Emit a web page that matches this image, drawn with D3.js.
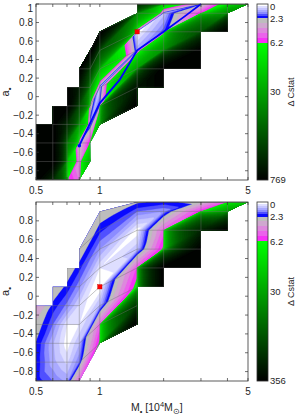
<!DOCTYPE html>
<html><head><meta charset="utf-8">
<script src="https://cdn.jsdelivr.net/npm/d3@7"></script>
<style>
body{margin:0;background:#fff}
svg{display:block}
text{font-family:"Liberation Sans",Arial,sans-serif;fill:#262626}
</style>
</head><body>
<svg id="c" width="296" height="415"></svg>
<script>
// ---------------- data ----------------
const spinRows = [-0.9,-0.7,-0.5,-0.3,-0.1,0.1,0.3,0.5,0.7,0.9,1.0];

const topMass  = [0.5,0.6,0.7,0.8,0.9,1.0,1.5,2,3,4,5];
const topShift = [0,0,0,0,0,1,2,2,2,2,2];
const topZ = [
  [769,769,769,769,769,769,769,769,769,769,769],
  [300,769,769,769,769,769,769,769,769,769,769],
  [6.5,15,60,300,769,769,769,769,769,769,769],
  [4.5,3.5,2.2,25,150,400,769,769,769,769,769],
  [60,20,6.5,1.2,3.5,30,200,769,769,769,769],
  [769,769,200,20,2.2,0.5,18,150,769,769,769],
  [769,769,769,769,769,500,30,1.2,0,40,300],
  [769,769,769,769,769,769,769,40,1.8,0.8,12],
  [769,769,769,769,769,769,769,769,150,6,2.0],
  [769,769,769,769,769,769,769,769,769,40,8],
  [769,769,769,769,769,769,769,769,769,200,20]
];
const topRegion = [[0.5,-0.9],[0.5,-0.3],[0.6,-0.3],[0.6,-0.1],[0.7,-0.1],[0.7,0.1],[0.8,0.1],[0.8,0.3],[0.9,0.5],[1.0,0.7],[1.5,0.9],[1.5,1.0],[5,1.0],[4,0.9],[4,0.7],[3,0.7],[3,0.3],[2,0.3],[2,0.1],[1.5,0.1],[1.5,-0.1],[1.0,-0.3],[0.9,-0.5],[0.9,-0.7],[0.8,-0.9]];
const topBest = [1.5,0.7];
const topLineMass = [0.8,1.0,1.24,1.5,2.0,2.56,3.0];
const topLineSpin = [-0.53,-0.07,0.18,0.5,0.7,0.88,1.0];
const topColorTicks = [0,2.3,6.2,30,769];
const topYLabels = [1,0.8,0.6,0.4,0.2,0,-0.2,-0.4,-0.6,-0.8];

const botMass  = [0.5,0.6,0.7,0.8,1.0,1.5,2,3,4,5];
const botShift = [0,0,0,0,1,2,2,2,2,2];
const botZ = [
  [2.1,2.15,2.25,2.7,4.0,6,6,6,6,6,6],
  [1.6,1.1,1.0,1.6,2.1,3.0,6,6,6,6,6],
  [1.2,0.5,0.1,0.3,1.5,2.1,2.9,6,6,6,6],
  [5,1.6,0.9,0.3,0.5,1.4,2.0,2.9,5,6,6],
  [10,10,6.5,5,1.0,0,0.3,1.3,2.0,2.8,5],
  [356,356,356,356,150,6.8,5.5,0.8,0.1,1.6,2.4],
  [356,356,356,356,356,356,356,6.5,5.0,1.3,2.1],
  [356,356,356,356,356,356,356,356,200,6,2.6],
  [356,356,356,356,356,356,356,356,356,30,5.5],
  [356,356,356,356,356,356,356,356,356,200,12]
];
const botRegion = [[0.5,-0.9],[0.5,-0.1],[0.6,-0.1],[0.6,0.1],[0.7,0.1],[0.7,0.3],[0.8,0.3],[0.8,0.5],[1.0,0.9],[1.5,1.0],[5,1.0],[4,0.9],[4,0.7],[3,0.7],[3,0.3],[2,0.3],[2,0.1],[1.5,0.1],[1.5,-0.3],[1.0,-0.5],[0.8,-0.9]];
const botBest = [1.0,0.1];
const botColorTicks = [0,2.3,6.2,30,356];
const botYLabels = [0.8,0.6,0.4,0.2,0,-0.2,-0.4,-0.6,-0.8];

const xTickLabels = [0.5,1,5];
const xTicks = [0.5,0.6,0.7,0.8,0.9,1,2,3,4,5];

// colour stops below the 6.2 level (value, colour)
const lowStopVals = [0,0.3,0.6,0.95,1.3,1.6,1.9,2.3,3.0,3.8,4.6,5.4];
const lowStopCols = ['#ffffff','#dedeff','#c6c6ff','#aaaaff','#8c8cff','#5050ff','#0a0aff','#bdbdbd','#cfa8cf','#dd88dd','#eb62eb','#f631f6'];

// ---------------- helpers ----------------
function tOf(z, zmax){
  if (z <= 6.2) return 0.22*z/6.2;
  if (z <= 30) return 0.22 + 0.28*Math.log(z/6.2)/Math.log(30/6.2);
  return 0.5 + 0.5*Math.log(z/30)/Math.log(zmax/30);
}
function zOf(t, zmax){
  if (t <= 0.22) return t/0.22*6.2;
  if (t <= 0.5) return 6.2*Math.pow(30/6.2,(t-0.22)/0.28);
  return 30*Math.pow(zmax/30,(t-0.5)/0.5);
}
function colorOf(z, zmax){
  if (z < 6.2){
    let c = lowStopCols[0];
    for (let i=0;i<lowStopVals.length;i++) if (z >= lowStopVals[i]) c = lowStopCols[i];
    return c;
  }
  const t = Math.min(1, tOf(z, zmax));
  const g = Math.round(255*(1-(t-0.22)/0.78));
  return `rgb(0,${g},0)`;
}

const svg = d3.select('#c');
const plotL = 36, plotR = 248, cbL = 257, cbR = 268;
const x = d3.scaleLog().domain([0.5,5]).range([plotL, plotR]);

const panels = [
  {id:'t', mass:topMass, shift:topShift, Z:topZ, region:topRegion, best:topBest, zmax:769, cticks:topColorTicks, yl:topYLabels, top:4, bottom:180, line:true},
  {id:'b', mass:botMass, shift:botShift, Z:botZ, region:botRegion, best:botBest, zmax:356, cticks:botColorTicks, yl:botYLabels, top:202, bottom:381, line:false}
];

const defs = svg.append('defs');

panels.forEach(p => {
  const y = d3.scaleLinear().domain([-0.9,1]).range([p.bottom, p.top]);
  const n = p.mass.length, R = 13, U = 8;
  const K = spinRows.length;
  const kOf = (i,r) => Math.max(0, Math.min(K-1, r + p.shift[i] - 2));
  const nz = (i,r) => p.Z[i][kOf(i,r)];
  const npx = (i,r) => [x(p.mass[i]), y(spinRows[kOf(i,r)])];

  const Wg = (n-1)*U+1, Hg = (R-1)*U+1;
  const vals = new Float64Array(Wg*Hg);
  for (let q=0;q<Hg;q++){
    for (let c=0;c<Wg;c++){
      const ci = c/U, ri = q/U;
      const i0 = Math.min(n-2, Math.floor(ci)), r0 = Math.min(R-2, Math.floor(ri));
      const fx = ci-i0, fy = ri-r0;
      const z00 = nz(i0,r0), z10 = nz(i0+1,r0), z01 = nz(i0,r0+1), z11 = nz(i0+1,r0+1);
      let z;
      if (fx >= fy) z = z00 + fx*(z10-z00) + fy*(z11-z10);
      else z = z00 + fy*(z01-z00) + fx*(z11-z01);
      vals[q*Wg+c] = z;
    }
  }
  const mapPt = (gx, gy) => {
    const ci = Math.max(0, Math.min(Wg-1, gx-0.5))/U;
    const ri = Math.max(0, Math.min(Hg-1, gy-0.5))/U;
    const i0 = Math.min(n-2, Math.floor(ci)), r0 = Math.min(R-2, Math.floor(ri));
    const fx = ci-i0, fy = ri-r0;
    const a = npx(i0,r0), b = npx(i0+1,r0), c = npx(i0,r0+1), d = npx(i0+1,r0+1);
    return [
      (1-fx)*(1-fy)*a[0] + fx*(1-fy)*b[0] + (1-fx)*fy*c[0] + fx*fy*d[0],
      (1-fx)*(1-fy)*a[1] + fx*(1-fy)*b[1] + (1-fx)*fy*c[1] + fx*fy*d[1]
    ];
  };
  const proj = d3.geoTransform({point: function(px, py){ const m = mapPt(px, py); this.stream.point(m[0], m[1]); }});
  const path = d3.geoPath(proj);

  // thresholds
  const th = lowStopVals.slice();
  const fills = lowStopCols.slice();
  const NG = 40;
  for (let j=0;j<NG;j++){
    const t0 = 0.22 + 0.78*j/NG, t1 = 0.22 + 0.78*(j+1)/NG;
    th.push(zOf(t0, p.zmax));
    fills.push(colorOf(zOf((t0+t1)/2, p.zmax), p.zmax));
  }
  const contours = d3.contours().size([Wg,Hg]).thresholds(th)(vals);

  // clip region
  const regPx = p.region.map(d => [x(d[0]), y(d[1])]);
  defs.append('clipPath').attr('id','clip'+p.id)
    .append('path').attr('d', 'M' + regPx.map(d=>d.join(',')).join('L') + 'Z');

  const g = svg.append('g').attr('clip-path', `url(#clip${p.id})`);
  g.selectAll('path.band').data(contours).join('path')
    .attr('class','band')
    .attr('d', path)
    .attr('fill', (d,i) => fills[i])
    .attr('stroke', (d,i) => fills[i])
    .attr('stroke-width', 0.3);

  // mesh lines
  const mesh = g.append('g').attr('fill','none').attr('stroke','#707070').attr('stroke-width',0.6).attr('stroke-opacity',0.7);
  p.mass.forEach((m,i) => {
    mesh.append('line').attr('x1', x(m)).attr('x2', x(m)).attr('y1', y(-0.9)).attr('y2', y(1));
  });
  for (let r=0;r<R;r++){
    const pts = d3.range(n).map(i => npx(i,r));
    mesh.append('path').attr('d', d3.line()(pts));
  }

  // blue line (top)
  if (p.line){
    const lp = topLineMass.map((m,i) => [x(m), y(topLineSpin[i])]);
    svg.append('path').attr('d', d3.line()(lp)).attr('fill','none')
      .attr('stroke','#0000ff').attr('stroke-width',1.8);
    svg.append('circle').attr('cx', lp[0][0]).attr('cy', lp[0][1]).attr('r',1.8).attr('fill','#0000ff');
  }

  // best fit marker
  svg.append('rect').attr('x', x(p.best[0])-2.2).attr('y', y(p.best[1])-2.2)
    .attr('width',4.4).attr('height',4.4).attr('fill','#ff0000').attr('stroke','#c00000').attr('stroke-width',0.4);

  // frame
  svg.append('rect').attr('x', plotL).attr('y', p.top).attr('width', plotR-plotL).attr('height', p.bottom-p.top)
    .attr('fill','none').attr('stroke','#333').attr('stroke-width',0.8);
  const tk = svg.append('g').attr('stroke','#333').attr('stroke-width',0.7);
  xTicks.forEach(v => {
    tk.append('line').attr('x1',x(v)).attr('x2',x(v)).attr('y1',p.bottom).attr('y2',p.bottom-3);
    tk.append('line').attr('x1',x(v)).attr('x2',x(v)).attr('y1',p.top).attr('y2',p.top+3);
  });
  p.yl.forEach(v => {
    tk.append('line').attr('x1',plotL).attr('x2',plotL+3).attr('y1',y(v)).attr('y2',y(v));
    tk.append('line').attr('x1',plotR).attr('x2',plotR-3).attr('y1',y(v)).attr('y2',y(v));
  });
  // tick labels
  svg.append('g').selectAll('text').data(p.yl).join('text')
    .attr('x', 33).attr('y', d => Math.max(8, y(d))).attr('dy','0.35em').attr('text-anchor','end')
    .attr('font-size', 10).text(d => d3.format('')(d));
  svg.append('g').selectAll('text').data(xTickLabels).join('text')
    .attr('x', d => x(d)).attr('y', p.bottom+14).attr('text-anchor','middle')
    .attr('font-size', 10).text(d => d);
  // y label
  const yt = svg.append('text').attr('transform', `translate(9,${(p.top+p.bottom)/2}) rotate(-90)`)
    .attr('text-anchor','middle').attr('font-size',11);
  yt.append('tspan').text('a');
  yt.append('tspan').attr('dy',2.5).attr('font-size',8).text('•');

  // colorbar
  const cbH = p.bottom - p.top;
  const cb = svg.append('g');
  cb.selectAll('rect').data(d3.range(Math.round(cbH))).join('rect')
    .attr('x', cbL).attr('y', d => p.top + d).attr('width', cbR-cbL).attr('height', 1.05)
    .attr('fill', d => colorOf(zOf((d+0.5)/cbH, p.zmax), p.zmax));
  svg.append('rect').attr('x',cbL).attr('y',p.top).attr('width',cbR-cbL).attr('height',cbH)
    .attr('fill','none').attr('stroke','#333').attr('stroke-width',0.8);
  svg.append('g').selectAll('text').data(p.cticks).join('text')
    .attr('x', cbR+2).attr('y', d => Math.max(p.top+2.5, p.top + tOf(d, p.zmax)*cbH)).attr('dy','0.35em')
    .attr('font-size', 9.5).text(d => d);
  svg.append('text').attr('transform', `translate(294,${(p.top+p.bottom)/2}) rotate(-90)`)
    .attr('text-anchor','middle').attr('font-size',9).text('Δ Cstat');
});

// x label
const xl = svg.append('text').attr('x', 131).attr('y', 411).attr('font-size', 10.5);
xl.append('tspan').text('M');
xl.append('tspan').attr('dy',2.5).attr('font-size',7.5).text('•');
xl.append('tspan').attr('dy',-2.5).text(' [10');
xl.append('tspan').attr('dy',-4).attr('font-size',7.5).text('4');
xl.append('tspan').attr('dy',4).text('M');
xl.append('tspan').attr('dy',2.5).attr('font-size',7.5).text('⊙');
xl.append('tspan').attr('dy',-2.5).text(']');
</script>
</body></html>
